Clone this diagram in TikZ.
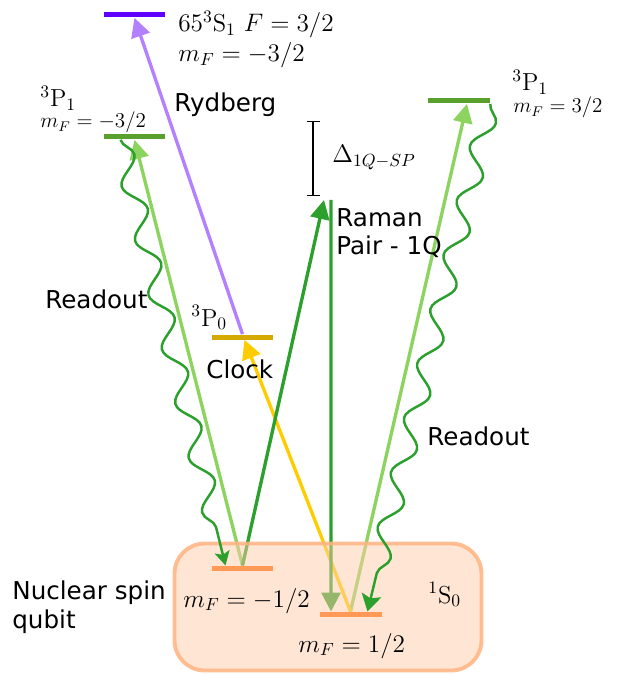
\documentclass[tikz,border=0pt]{standalone}
\usepackage{fontspec}
\newfontfamily\labelfont{DejaVu Sans}
\usetikzlibrary{positioning, arrows.meta, decorations.pathmorphing}

\definecolor{rydbar}{HTML}{5F00FF}
\definecolor{rydarrow}{HTML}{B380FF}
\definecolor{pbar}{HTML}{5AA02C}
\definecolor{readlight}{HTML}{8DD35F}
\definecolor{darkgreen}{HTML}{2CA02C}
\definecolor{clockbar}{HTML}{D4AA00}
\definecolor{clockarrow}{HTML}{FFCC00}
\definecolor{groundbar}{HTML}{FF9955}
\definecolor{boxfill}{HTML}{FFCCAA}
\definecolor{boxdraw}{HTML}{FFB380}

\begin{document}
\begin{tikzpicture}[
    x=0.02cm, y=-0.02cm,
    % Energy levels as thin bars
    elevel/.style={rectangle, inner sep=0pt, minimum width=1.24cm, minimum height=0.1cm},
    % Laser transitions
    laser/.style={-{Triangle[length=0.38cm, width=0.38cm]}, line width=1.9pt},
    % Spontaneous decay
    decay/.style={-{Stealth[length=0.34cm, width=0.4cm, inset=0.07cm]}, line width=1.4pt, draw=darkgreen,
        decorate, decoration={snake, amplitude=0.2cm, segment length=1.12cm, post length=0.3cm}},
    % Labels
    txt/.style={font=\labelfont\fontsize{14}{16}\selectfont, anchor=base west, inner sep=0pt, align=left},
    mlabel/.style={font=\fontsize{14}{17}\selectfont, anchor=base west, inner sep=0pt},
    slabel/.style={font=\fontsize{12}{14}\selectfont, anchor=base west, inner sep=0pt}
]
    \useasboundingbox (0,0) rectangle (621,675);

    % --- UPPER LEVELS ---
    \node[elevel, fill=rydbar] (ryd) at (134.5,15) {};
    \node[elevel, fill=pbar] (p1l) at (134.5,137) {};
    \node[elevel, fill=pbar] (p1r) at (459,101) {};
    \node[elevel, fill=clockbar] (p0) at (242.5,337) {};

    % --- GROUND LEVEL POSITIONS ---
    \coordinate (g1) at (242.5,568);
    \coordinate (g2) at (350.5,614);
    \coordinate (ramanup) at (324,200);
    \coordinate (ramandown) at (331,200);

    % --- LASERS ---
    \draw[laser, rydarrow] (p0.north) -- (ryd.south);
    \draw[laser, readlight] ([yshift=0.05cm]g1) -- (p1l.south);
    \draw[laser, readlight] ([yshift=0.05cm]g2) -- ([xshift=0.16cm]p1r.south);
    \draw[laser, clockarrow] ([yshift=0.05cm]g2) -- ([xshift=0.04cm]p0.south);
    \draw[laser, darkgreen] ([yshift=0.05cm]g1) -- (ramanup);
    \draw[laser, darkgreen] (ramandown) -- ([xshift=-0.39cm, yshift=0.05cm]g2);

    % --- QUBIT BOX ---
    \node[rectangle, minimum width=6.14cm, minimum height=2.54cm, rounded corners=0.6cm,
        fill=boxfill, fill opacity=0.5, draw=boxdraw, draw opacity=0.85, line width=2.2pt]
        (qubitbox) at (328,607) {};

    % --- DECAYS ---
    \draw[decay, -{Stealth[length=0.28cm, width=0.3cm, inset=0.06cm]}]
        ([xshift=-0.28cm]p1l.south) -- ([xshift=-0.34cm, yshift=0.05cm]g1);
    \draw[decay] (p1r.south east) -- ([xshift=0.34cm, yshift=0.05cm]g2);

    % --- GROUND LEVELS ---
    \node[elevel, fill=groundbar] (gm) at (g1) {};
    \node[elevel, fill=groundbar] (gp) at (g2) {};

    % --- DETUNING ---
    \coordinate (dtop) at (313,121);
    \coordinate (dbot) at (313,196);
    \draw[{Bar[width=0.26cm]}-{Bar[width=0.26cm]}, line width=0.8pt] (dtop) -- (dbot);

    % --- LEVEL LABELS ---
    \node[mlabel] (rydlab) at (178,32) {$65^3\mathrm{S}_1\ F=3/2$};
    \node[mlabel] (rydmf) at (178,62) {$m_F=-3/2$};
    \node[mlabel] (p1llab) at (40,107) {$^3\mathrm{P}_1$};
    \node[slabel] (p1lmf) at (40,128) {$m_F=-3/2$};
    \node[mlabel] (p1rlab) at (512,91) {$^3\mathrm{P}_1$};
    \node[slabel] (p1rmf) at (513,113) {$m_F=3/2$};
    \node[mlabel] (p0lab) at (191,326) {$^3\mathrm{P}_0$};
    \node[mlabel] (dlab) at (332,163) {$\Delta_{1Q-SP}$};
    \node[mlabel] (gmlab) at (183,607) {$m_F=-1/2$};
    \node[mlabel] (gplab) at (298,652) {$m_F=1/2$};
    \node[mlabel] (s0lab) at (428,603) {$^1\mathrm{S}_0$};

    % --- TRANSITION LABELS ---
    \node[txt] (rydtxt) at (174,112) {Rydberg};
    \node[txt] (ramtxt) at (336,255) {Raman\\Pair - 1Q};
    \node[txt] (readl) at (45,308) {Readout};
    \node[txt] (readr) at (427,445) {Readout};
    \node[txt] (clocktxt) at (206,378) {Clock};
    \node[txt] (qubittxt) at (12,628) {Nuclear spin\\qubit};

\end{tikzpicture}
\end{document}
